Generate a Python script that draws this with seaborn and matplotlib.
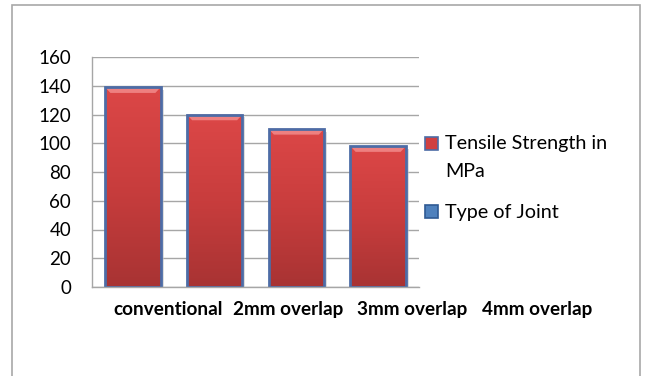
import numpy as np
import matplotlib
matplotlib.use("Agg")
import matplotlib.pyplot as plt
import seaborn as sns
import pandas as pd
from matplotlib.patches import Rectangle, Polygon
from matplotlib.colors import LinearSegmentedColormap

# Data
joint_types = ["conventional", "2mm overlap", "3mm overlap", "4mm overlap"]
tensile_strength = [139, 120, 110, 98]
y_ticks = [0, 20, 40, 60, 80, 100, 120, 140, 160]
legend_labels = ["Tensile Strength in\nMPa", "Type of Joint"]

sns.set_theme(style="white")
plt.rcParams["font.family"] = ["Lato", "DejaVu Sans"]

W, H = 647, 376
fig = plt.figure(figsize=(W / 100, H / 100), dpi=100)
fig.patch.set_facecolor("white")

# outer chart frame
fig.patches.append(Rectangle((11.5 / W, -0.2), (639.5 - 11.5) / W, 1.2 - 5 / H,
                             transform=fig.transFigure, fill=False,
                             edgecolor="#a8a8a8", linewidth=1.2))

ax = fig.add_axes([92 / W, 1 - 287 / H, (419 - 92) / W, (287 - 57) / H])

df = pd.DataFrame({"joint": joint_types, "strength": tensile_strength})
sns.barplot(data=df, x="joint", y="strength", color="#d04040", saturation=1,
            width=0.68, ax=ax, edgecolor="#4d6ca6", linewidth=2.0, errorbar=None)

ax.set_xlim(-0.5, 3.5)
ax.set_ylim(0, 160)
ax.set_yticks(y_ticks)
ax.set_yticklabels([str(v) for v in y_ticks], fontsize=13.5, color="black")
ax.set_xticks([])
ax.set_xlabel("")
ax.set_ylabel("")
ax.tick_params(axis="y", length=0, pad=15)
ax.yaxis.grid(True, color="#a6a6a6", linewidth=1)
ax.set_axisbelow(True)
for side in ["top", "right"]:
    ax.spines[side].set_visible(False)
for side in ["left", "bottom"]:
    ax.spines[side].set_color("#a6a6a6")
    ax.spines[side].set_linewidth(1)

# gradient fill, bevel and shadow for each bar
red_grad = LinearSegmentedColormap.from_list("redgrad", ["#a83333", "#c83d3d", "#dc4747"])
gradient = np.linspace(0, 1, 256).reshape(-1, 1)
for patch in list(ax.patches):
    x0, y0 = patch.get_x(), patch.get_y()
    w, h = patch.get_width(), patch.get_height()
    if h <= 0:
        continue
    shadow = Rectangle((x0 + 0.035, y0), w, h - 2.0, facecolor="#c4c4c4",
                       edgecolor="none", alpha=0.55, zorder=0.8)
    ax.add_patch(shadow)
    im = ax.imshow(gradient, extent=(x0, x0 + w, y0, y0 + h), origin="lower",
                   cmap=red_grad, aspect="auto", zorder=0.9, interpolation="bilinear")
    im.set_clip_path(patch)
    top = y0 + h
    dx, dy = 0.065, 4.0
    bevel = Polygon([(x0, top), (x0 + w, top), (x0 + w - dx, top - dy), (x0 + dx, top - dy)],
                    closed=True, facecolor="#ee8080", edgecolor="none", zorder=0.95)
    ax.add_patch(bevel)
    patch.set_facecolor("none")
    patch.set_zorder(1.0)

ax.set_xlim(-0.5, 3.5)
ax.set_ylim(0, 160)

# category labels below the plot area
label_x = [168, 288, 412, 537]
for lx, name in zip(label_x, joint_types):
    fig.text(lx / W, 1 - 315 / H, name, ha="center", va="baseline",
             fontsize=13.6, fontweight="bold", color="black")

# legend
legend_items = [
    (137, "#d04040", "#4d6ca6", 149, legend_labels[0]),
    (205, "#4f81bd", "#2f5a94", 218, legend_labels[1]),
]
for top_px, fc, ec, base_y, label in legend_items:
    fig.patches.append(Rectangle((425 / W, 1 - (top_px + 13) / H), 13 / W, 13 / H,
                                 transform=fig.transFigure, facecolor=fc,
                                 edgecolor=ec, linewidth=1.2))
    lines = label.split("\n")
    for i, line in enumerate(lines):
        fig.text(445 / W, 1 - (base_y + 28 * i) / H, line, ha="left", va="baseline",
                 fontsize=14.2, color="black")

fig.savefig("out.png", dpi=100, facecolor="white")
